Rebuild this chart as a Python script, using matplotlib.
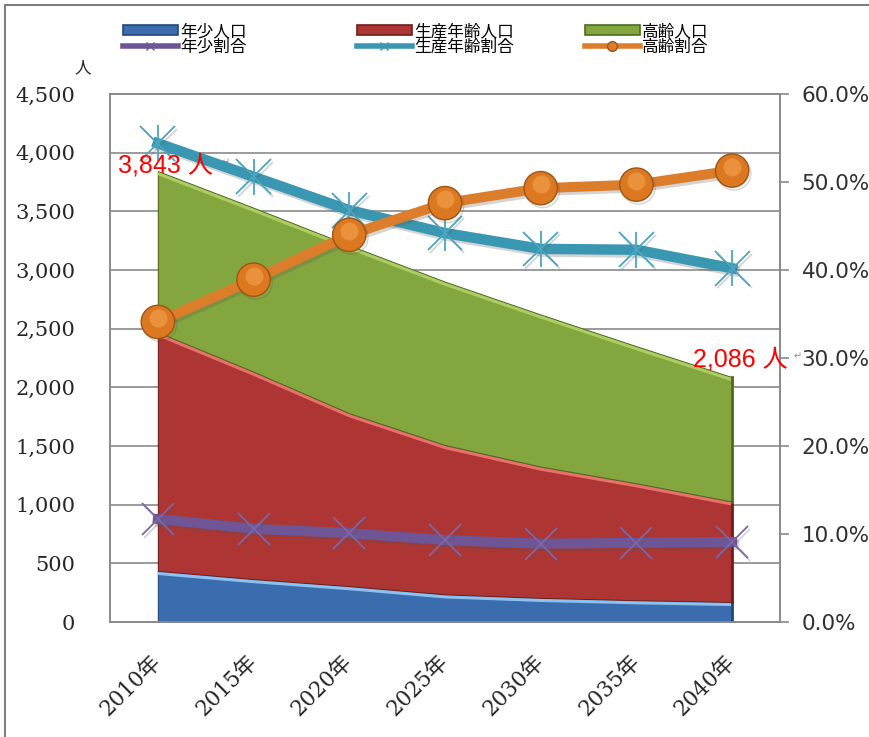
# -*- coding: utf-8 -*-
"""
将来人口推計（年齢3区分）の積み上げ面グラフ＋割合の折れ線
"""
import numpy as np
import matplotlib
matplotlib.use('Agg')
import matplotlib.pyplot as plt
import matplotlib.patheffects as pe
import matplotlib.transforms as mtransforms
from matplotlib.lines import Line2D
from matplotlib.patches import Patch, Rectangle
from matplotlib.ticker import FuncFormatter, MultipleLocator

# 人口（人）
years = ['2010年', '2015年', '2020年', '2025年', '2030年', '2035年', '2040年']
young = [435, 365, 305, 235, 205, 185, 170]
working = [2035, 1768, 1474, 1273, 1119, 997, 856]
elderly = [1373, 1397, 1431, 1392, 1296, 1168, 1060]

# 割合（%）
young_ratio = [11.7, 10.6, 10.1, 9.3, 8.9, 9.0, 9.1]
working_ratio = [54.4, 50.6, 46.8, 44.2, 42.4, 42.3, 40.2]
elderly_ratio = [34.1, 38.9, 44.0, 47.6, 49.3, 49.7, 51.3]

JP = ['Noto Sans CJK JP', 'DejaVu Sans']
SERIF_JP = ['DejaVu Serif', 'Noto Sans CJK JP']
SANS_JP = ['Liberation Sans', 'Noto Sans CJK JP']
GRID = '#8a8a8a'

W, H = 870, 737
fig = plt.figure(figsize=(W / 100, H / 100), dpi=100, facecolor='white')
ax = fig.add_axes([110 / W, 1 - 622 / H, 670 / W, 528 / H])
ax2 = ax.twinx()

x = np.arange(len(years))
s1 = np.array(young)
s2 = s1 + np.array(working)
s3 = s2 + np.array(elderly)

# 面（下から年少・生産年齢・高齢）
areas = [
    (np.zeros_like(s1), s1, '#3b6cae', '#8cc2f2', '#24477a'),
    (s1, s2, '#ad3634', '#e8716c', '#6e1e1c'),
    (s2, s3, '#84a63e', '#abcd62', '#4f6a1f'),
]
hl = mtransforms.offset_copy(ax.transData, fig=fig, x=0, y=-2.5, units='dots')
for lo, hi, fc, light, dark in areas:
    ax.fill_between(x, lo, hi, facecolor=fc, edgecolor=dark, lw=0.8, zorder=2)
    ax.plot(x, hi, color=light, lw=2.2, transform=hl, zorder=3, solid_capstyle='butt')
    ax.plot([x[-1], x[-1]], [lo[-1], hi[-1]], color=dark, lw=2, zorder=3)

ax.set_xlim(-0.5, len(years) - 0.5)
ax.set_ylim(0, 4500)
ax.yaxis.set_major_locator(MultipleLocator(500))
ax.yaxis.set_major_formatter(FuncFormatter(lambda v, p: f'{int(v):,}'))
ax.grid(axis='y', color=GRID, lw=1.2, zorder=0)
ax.set_axisbelow(True)
ax.set_xticks(x)
ax.set_xticklabels(years)
ax.tick_params(axis='y', length=0, pad=25, labelsize=15, labelcolor='#262626')
ax.tick_params(axis='x', length=0, pad=26, labelsize=15.5, labelcolor='#262626')
for lab in ax.get_yticklabels():
    lab.set_family('DejaVu Serif')
for lab in ax.get_xticklabels():
    lab.set_family(SERIF_JP)
    lab.set_rotation(45)
    lab.set_ha('right')
    lab.set_va('center')
    lab.set_rotation_mode('anchor')

for a in (ax, ax2):
    for sp in a.spines.values():
        sp.set_color(GRID)
        sp.set_linewidth(1.2)

# 割合（第2軸）
ax2.set_ylim(0, 60)
ax2.yaxis.set_major_locator(MultipleLocator(10))
ax2.yaxis.set_major_formatter(FuncFormatter(lambda v, p: f'{v:.1f}%'))
ax2.tick_params(axis='y', length=6.5, width=1.2, color=GRID, pad=9,
                labelsize=15.5, labelcolor='#303030')

shadow = [pe.SimpleLineShadow(offset=(1.5, -2), alpha=0.25, shadow_color='#555555'), pe.Normal()]

ax2.plot(x, young_ratio, color='#6e5596', lw=7.2, marker='x', ms=23, mew=1.3,
         mec='#7d66a8', path_effects=shadow, zorder=3)

ax2.plot(x, working_ratio, color='#3a97b1', lw=7.5, marker='x', ms=25, mew=1.3,
         mec='#4aa6c2', path_effects=shadow, zorder=4)
ax2.plot(x, working_ratio, ls='none', marker='|', ms=26, mew=1.3, mec='#4aa6c2', zorder=4)

ax2.plot(x, elderly_ratio, color='#dc7d2c', lw=7.2, marker='o', ms=24, mfc='#dc7820',
         mec='#9c5516', mew=1, path_effects=shadow, zorder=5)
glow = mtransforms.offset_copy(ax2.transData, fig=fig, x=0, y=4, units='dots')
ax2.plot(x, elderly_ratio, ls='none', marker='o', ms=13, mfc='#f2a252', mec='none',
         alpha=0.6, transform=glow, zorder=6)

# 総人口のラベル（最初と最後）
total = [int(v) for v in s3]
label_font = dict(color='#ff0000', fontsize=18, family=SANS_JP, ha='center', va='center',
                  textcoords='offset pixels', xycoords=ax.transData, zorder=10)
ax2.annotate(f'{total[0]:,} 人', xy=(x[0], total[0]), xytext=(8, 6), **label_font)
ax2.annotate(f'{total[-1]:,} 人', xy=(x[-1], total[-1]), xytext=(8, 18), **label_font)
for i, dx, dy in [(0, 68, 9), (-1, 65, 21)]:
    ax2.annotate('↵', xy=(x[i], total[i]), xycoords=ax.transData, xytext=(dx, dy),
                 textcoords='offset pixels', fontsize=7, color='#909090',
                 ha='center', va='center', family='DejaVu Sans')

# 単位
fig.text(83 / W, 1 - 68 / H, '人', family=JP, fontsize=12, color='#262626',
         ha='center', va='center')

# 凡例（3列×2段）
cols = [
    (123, Patch(facecolor='#3b6cae', edgecolor='#24477a', lw=1.2), '年少人口',
     Line2D([], [], color='#6e5596', lw=4, marker='x', ms=6, mew=1), '年少割合'),
    (357, Patch(facecolor='#ad3634', edgecolor='#6e1e1c', lw=1.2), '生産年齢人口',
     Line2D([], [], color='#3a97b1', lw=4, marker='x', ms=6, mew=1), '生産年齢割合'),
    (585, Patch(facecolor='#84a63e', edgecolor='#4f6a1f', lw=1.2), '高齢人口',
     Line2D([], [], color='#dc7d2c', lw=4, marker='o', ms=7, mec='#9c5516'), '高齢割合'),
]
for x0, h1, l1, h2, l2 in cols:
    fig.legend([h1, h2], [l1, l2], loc='upper left', bbox_to_anchor=(x0 / W, 1 - 23 / H),
               frameon=False, prop={'family': JP, 'size': 12}, handlelength=3.3,
               handleheight=0.55, handletextpad=0.12, labelspacing=-0.08,
               borderpad=0, borderaxespad=0)

# グラフエリアの枠
fig.add_artist(Rectangle((5 / W, -0.05), 1.2, 1.05 - 5 / H, transform=fig.transFigure,
                         fill=False, ec='#7f7f7f', lw=1.5))

fig.savefig('out.png', dpi=100, facecolor='white')
